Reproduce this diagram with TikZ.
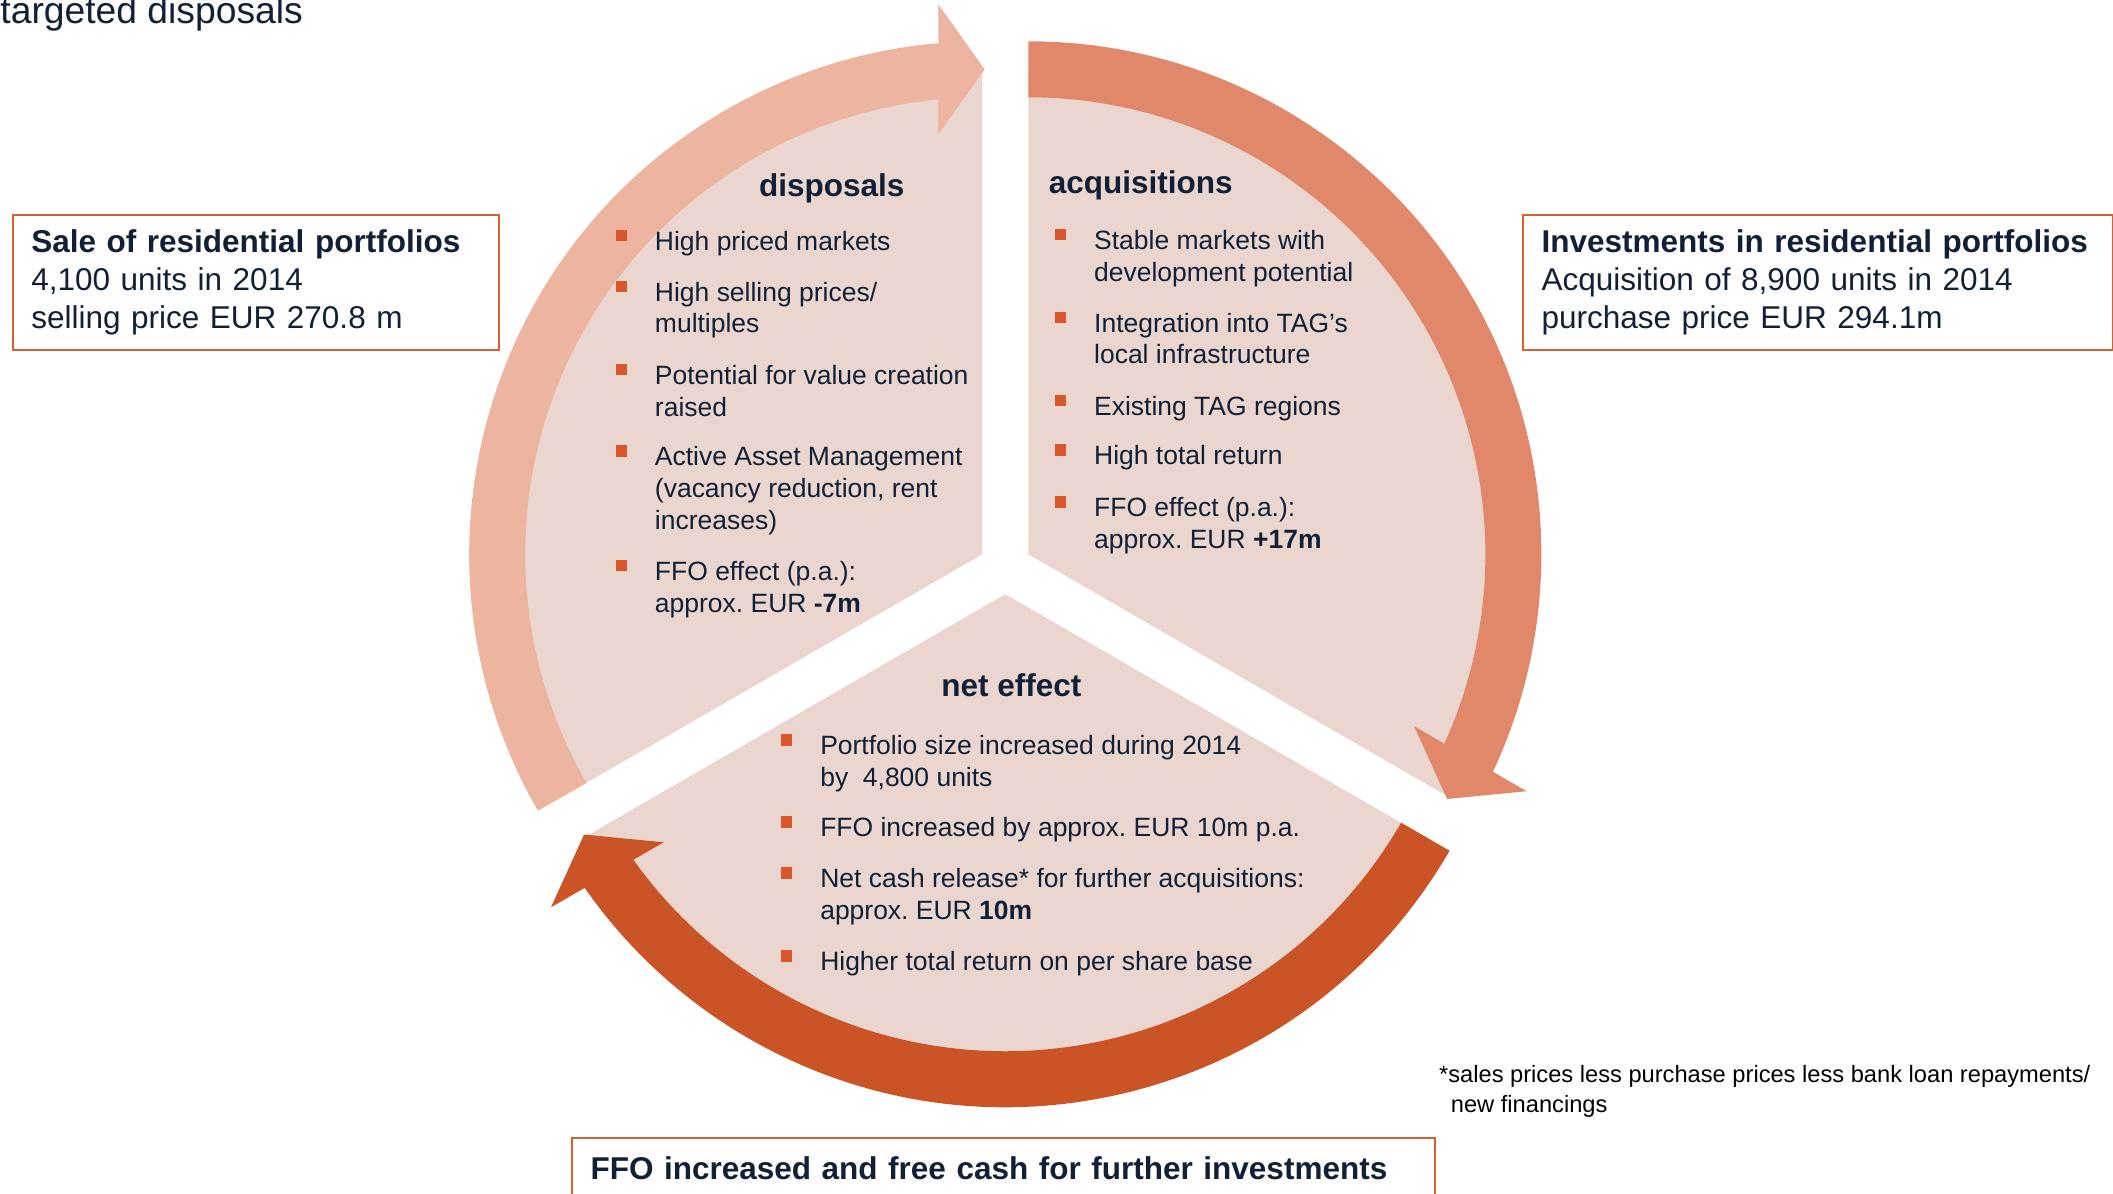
\documentclass[tikz,border=0pt]{standalone}
\usepackage{fontspec}
\setmainfont{Liberation Sans}
\frenchspacing

\definecolor{wedgefill}{HTML}{EAD6CF}
\definecolor{lightarrow}{HTML}{EDB4A0}
\definecolor{midarrow}{HTML}{E2886A}
\definecolor{darkarrow}{HTML}{CB5427}
\definecolor{bulletred}{HTML}{D8562A}
\definecolor{navy}{HTML}{112036}
\definecolor{boxline}{HTML}{D8602F}

\begin{document}
\begin{tikzpicture}[x=0.015cm, y=0.015cm]
      \tikzstyle{wedge}=[fill=wedgefill]
      \tikzstyle{bullet}=[fill=bulletred]
      \tikzstyle{heading}=[anchor=base west, inner sep=0pt, text=navy, font=\fontsize{13.45}{16.4}\selectfont\bfseries]
      \tikzstyle{item}=[anchor=north west, inner sep=0pt, text=navy, align=left, font=\fontsize{11.3}{13.6}\selectfont]
      \tikzstyle{infobox}=[draw=boxline, line width=0.9pt, anchor=north west, align=left, inner xsep=8pt, inner ysep=0pt, text=navy, font=\fontsize{13.45}{16.4}\selectfont]
      \tikzstyle{note}=[anchor=base west, inner sep=0pt, align=left, font=\fontsize{10.1}{12.4}\selectfont]

      \useasboundingbox (0,0) rectangle (2113,-1193);

      % Centre of the cycle, the three wedges are pushed out from it
      \coordinate (O) at (1005.3,-567.6);
      \coordinate (CL) at ([shift={(150:26.6)}]O);
      \coordinate (CR) at ([shift={(30:26.6)}]O);
      \coordinate (CB) at ([shift={(270:26.6)}]O);

      % Draw the three wedges
      \foreach \c/\a in {CL/90, CR/-30, CB/210}
          \fill[wedge] (\c) -- ++(\a:485) arc[start angle=\a, delta angle=120, radius=485] -- cycle;

      % Draw the curved arrows round the wedges
      \foreach \c/\r/\col in {CL/90/lightarrow, CR/-30/midarrow, CB/210/darkarrow}
          \fill[fill=\col, shift={(\c)}, rotate=\r] (120:457) -- (120:513)
              arc[start angle=120, end angle=4.92, radius=513] -- (550,44) -- (485,-2.5)
              -- (420,44) -- (454.9,44) arc[start angle=5.52, end angle=120, radius=457] -- cycle;

      % Disposals
      \node[heading] (disp) at (758.6,-196) {disposals};
      \node[item] (d1) at (654.5,-230.5) {High priced markets};
      \node[item] (d2) at (654.5,-281.4) {High selling prices/\\multiples};
      \node[item] (d3) at (654.5,-364.5) {Potential for value creation\\raised};
      \node[item] (d4) at (654.5,-446) {Active Asset Management\\(vacancy reduction, rent\\increases)};
      \node[item] (d5) at (654.5,-560.8) {FFO effect (p.a.):\\approx. EUR \textbf{-7m}};

      % Acquisitions
      \node[heading] (acq) at (1048.3,-193.3) {acquisitions};
      \node[item] (a1) at (1093.7,-229.8) {Stable markets with\\development potential};
      \node[item] (a2) at (1093.7,-312.4) {Integration into TAG’s\\local infrastructure};
      \node[item] (a3) at (1093.7,-395.5) {Existing TAG regions};
      \node[item] (a4) at (1093.7,-445.2) {High total return};
      \node[item] (a5) at (1093.7,-496.9) {FFO effect (p.a.):\\approx. EUR \textbf{+17m}};

      % Net effect
      \node[heading] (net) at (940.8,-696.5) {net effect};
      \node[item] (n1) at (819.8,-735) {Portfolio size increased during 2014\\by\ \ 4,800 units};
      \node[item] (n2) at (819.8,-817) {FFO increased by approx. EUR 10m p.a.};
      \node[item] (n3) at (819.8,-867.9) {Net cash release* for further acquisitions:\\approx. EUR \textbf{10m}};
      \node[item] (n4) at (819.8,-951.1) {Higher total return on per share base};

      % Bullet squares in front of every item
      \foreach \b in {d1,d2,d3,d4,d5,a1,a2,a3,a4,a5,n1,n2,n3,n4}
          \fill[bullet] ([shift={(-38.5,-10.6)}]\b.north west) rectangle ++(11,11.5);

      % Boxes around the cycle
      \node[infobox, text width=191.5pt, minimum width=207.5pt, minimum height=57.8pt] (sale) at (11.5,-213.5)
          {\textbf{Sale of residential portfolios}\\4,100 units in 2014\\selling price EUR 270.8 m};
      \node[infobox, text width=235.7pt, minimum width=251.7pt, minimum height=57.8pt] (invest) at (1521.7,-213.5)
          {\mbox{\textbf{Investments in residential portfolios}}\\Acquisition of 8,900 units in 2014\\purchase price EUR 294.1m};
      \node[infobox, text width=352.5pt, minimum width=368.5pt, minimum height=25.6pt] (ffo) at (570.7,-1137)
          {\textbf{FFO increased and free cash for further investments}};

      % Top line and footnote
      \node[anchor=base west, inner sep=0pt, text=navy, font=\fontsize{15.9}{19}\selectfont] (top) at (0,-23) {targeted disposals};
      \node[note] (foot) at (1438.7,-1112) {*sales prices less purchase prices less bank loan repayments/\\\hspace*{5pt}new financings};
\end{tikzpicture}
\end{document}
